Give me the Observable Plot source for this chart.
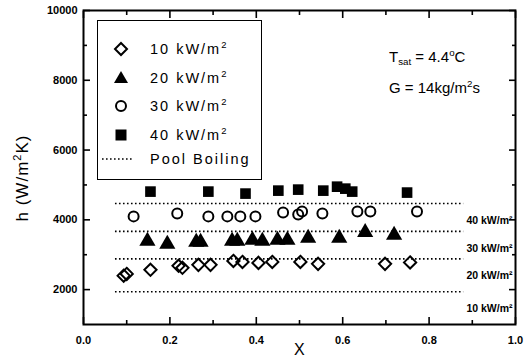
<!DOCTYPE html>
<html>
<head>
<meta charset="utf-8">
<script src="https://cdn.jsdelivr.net/npm/d3@7"></script>
<script src="https://cdn.jsdelivr.net/npm/@observablehq/plot@0.6"></script>
<style>
  body { margin: 0; background: #fff; }
  #wrap { position: relative; width: 527px; height: 360px; overflow: hidden; font-family: "Liberation Sans", Arial, sans-serif; color: #000; }
  #wrap svg.plot { position: absolute; left: 0; top: 0; }
  .ov { position: absolute; white-space: nowrap; line-height: 1; }
  #legend { position: absolute; left: 97px; top: 20px; width: 163px; height: 158px; border: 1.5px solid #000; background: #fff; }
  .lrow { position: absolute; left: 0; height: 20px; width: 160px; }
  .lrow svg { position: absolute; left: 12px; top: 0; }
  .lrow span { position: absolute; left: 52px; top: 2px; font-size: 14.5px; letter-spacing: 2px; }
  sup { font-size: 0.65em; vertical-align: 0; position: relative; top: -0.6em; }
  sub { font-size: 0.65em; vertical-align: 0; position: relative; top: 0.35em; }
</style>
</head>
<body>
<div id="wrap"></div>
<script>
// ---- data ----
const xTicks = [0, 0.2, 0.4, 0.6, 0.8, 1.0];
const xMinor = [0.1, 0.3, 0.5, 0.7, 0.9];
const yTicks = [2000, 4000, 6000, 8000, 10000];
const yMinor = [3000, 5000, 7000, 9000];

const q10X = [0.093, 0.100, 0.155, 0.220, 0.229, 0.266, 0.294, 0.347, 0.368, 0.405, 0.437, 0.502, 0.543, 0.698, 0.756];
const q10H = [2400, 2450, 2567, 2681, 2624, 2709, 2709, 2823, 2794, 2766, 2794, 2794, 2738, 2738, 2780];

const q20X = [0.148, 0.194, 0.261, 0.271, 0.344, 0.356, 0.391, 0.414, 0.449, 0.472, 0.520, 0.592, 0.652, 0.719];
const q20H = [3390, 3305, 3362, 3362, 3390, 3390, 3418, 3390, 3418, 3418, 3475, 3475, 3645, 3560];

const q30X = [0.116, 0.217, 0.289, 0.333, 0.363, 0.398, 0.462, 0.497, 0.506, 0.553, 0.634, 0.664, 0.772];
const q30H = [4099, 4184, 4099, 4099, 4099, 4099, 4213, 4156, 4241, 4184, 4241, 4241, 4241];

const q40X = [0.155, 0.289, 0.375, 0.451, 0.497, 0.555, 0.587, 0.606, 0.622, 0.749];
const q40H = [4809, 4809, 4752, 4837, 4866, 4837, 4950, 4894, 4809, 4781];

const poolH = [4470, 3670, 2880, 1940];
const poolLabels = ["40 kW/m²", "30 kW/m²", "20 kW/m²", "10 kW/m²"];
const poolX1 = 0.074, poolX2 = 0.88;

const legendLabels = ["10 kW/m", "20 kW/m", "30 kW/m", "40 kW/m", "Pool Boiling"];

// ---- chart ----
const W = 527, H = 360;
const mL = 83, mR = 12, mT = 10, mB = 36;

const pts = (xs, hs) => xs.map((x, i) => ({x, h: hs[i]}));

const tk = {strokeWidth: 1.6, text: null, label: null};
const plot = Plot.plot({
  width: W, height: H,
  marginLeft: mL, marginRight: mR, marginTop: mT, marginBottom: mB,
  style: {fontFamily: "Liberation Sans, Arial, sans-serif", fontSize: "10px", fontWeight: "bold", background: "#fff", overflow: "visible"},
  x: {domain: [0, 1]},
  y: {domain: [1000, 10000]},
  marks: [
    Plot.axisX({ticks: xTicks, tickSize: 0, tickPadding: 12, tickFormat: d => d.toFixed(1), label: null, fontSize: 11, style: {letterSpacing: "1.5px"}}),
    Plot.axisY({ticks: yTicks, tickSize: 0, tickPadding: 6, tickFormat: d => String(d), label: null, fontSize: 11, style: {letterSpacing: "1.5px"}}),
    // inward ticks
    Plot.axisX({...tk, anchor: "bottom", ticks: xTicks, tickSize: -7}),
    Plot.axisX({...tk, anchor: "top", ticks: xTicks, tickSize: -7}),
    Plot.axisX({...tk, anchor: "bottom", ticks: xMinor, tickSize: -4}),
    Plot.axisX({...tk, anchor: "top", ticks: xMinor, tickSize: -4}),
    Plot.axisY({...tk, anchor: "left", ticks: yTicks, tickSize: -7}),
    Plot.axisY({...tk, anchor: "right", ticks: yTicks, tickSize: -7}),
    Plot.axisY({...tk, anchor: "left", ticks: yMinor, tickSize: -4}),
    Plot.axisY({...tk, anchor: "right", ticks: yMinor, tickSize: -4}),
    // pool boiling lines
    Plot.ruleY(poolH, {y: d => d, x1: poolX1, x2: poolX2, stroke: "#000", strokeWidth: 1.6, strokeDasharray: "1.6,2.4"}),
    Plot.text(poolH.map((h, i) => ({h, t: poolLabels[i]})), {y: "h", text: "t", frameAnchor: "right", textAnchor: "end", dx: -3, dy: 17, fontSize: 10.5, fontWeight: "bold", style: {letterSpacing: "1px"}}),
    // data
    Plot.dot(pts(q10X, q10H), {x: "x", y: "h", symbol: "diamond2", r: 5.5, stroke: "#000", strokeWidth: 2, fill: "none"}),
    Plot.dot(pts(q20X, q20H), {x: "x", y: "h", symbol: "triangle", r: 6, fill: "#000", stroke: "none"}),
    Plot.dot(pts(q30X, q30H), {x: "x", y: "h", symbol: "circle", r: 5, stroke: "#000", strokeWidth: 2, fill: "none"}),
    Plot.dot(pts(q40X, q40H), {x: "x", y: "h", symbol: "square", r: 6, fill: "#000", stroke: "none"}),
    Plot.frame({stroke: "#000", strokeWidth: 2})
  ]
});
plot.classList.add("plot");
const wrap = document.getElementById("wrap");
wrap.appendChild(plot);

// ---- legend ----
const legend = document.createElement("div");
legend.id = "legend";
const symSvg = [
  '<svg width="22" height="20"><path d="M11,4 L17,10 L11,16 L5,10 Z" fill="none" stroke="#000" stroke-width="2"/></svg>',
  '<svg width="22" height="20"><path d="M11,3 L18,15 L4,15 Z" fill="#000"/></svg>',
  '<svg width="22" height="20"><circle cx="11" cy="10" r="5" fill="none" stroke="#000" stroke-width="2"/></svg>',
  '<svg width="22" height="20"><rect x="5.5" y="4.5" width="11" height="11" fill="#000"/></svg>',
  '<svg width="34" height="20" style="left:4px"><line x1="0" y1="10" x2="30" y2="10" stroke="#000" stroke-width="1.6" stroke-dasharray="1.6,2.4"/></svg>'
];
const rowTops = [18, 47, 75, 104, 128];
legendLabels.forEach((lab, i) => {
  const r = document.createElement("div");
  r.className = "lrow";
  r.style.top = rowTops[i] + "px";
  r.innerHTML = symSvg[i] + "<span>" + lab + (i < 4 ? "<sup>2</sup>" : "") + "</span>";
  legend.appendChild(r);
});
wrap.appendChild(legend);

// ---- annotations ----
function ov(html, left, top, extra) {
  const d = document.createElement("div");
  d.className = "ov";
  d.innerHTML = html;
  d.style.left = left + "px";
  d.style.top = top + "px";
  Object.assign(d.style, extra || {});
  wrap.appendChild(d);
  return d;
}
ov("T<sub>sat</sub> = 4.4<sup>o</sup>C", 389, 49, {fontSize: "15px"});
ov("G = 14kg/m<sup>2</sup>s", 389, 80, {fontSize: "15px"});
ov("X", 294, 342, {fontSize: "16px"});
ov("h (W/m<sup>2</sup>K)", 22, 178, {fontSize: "17px", transform: "translate(-50%,-50%) rotate(-90deg)", letterSpacing: "1px"});
</script>
</body>
</html>
